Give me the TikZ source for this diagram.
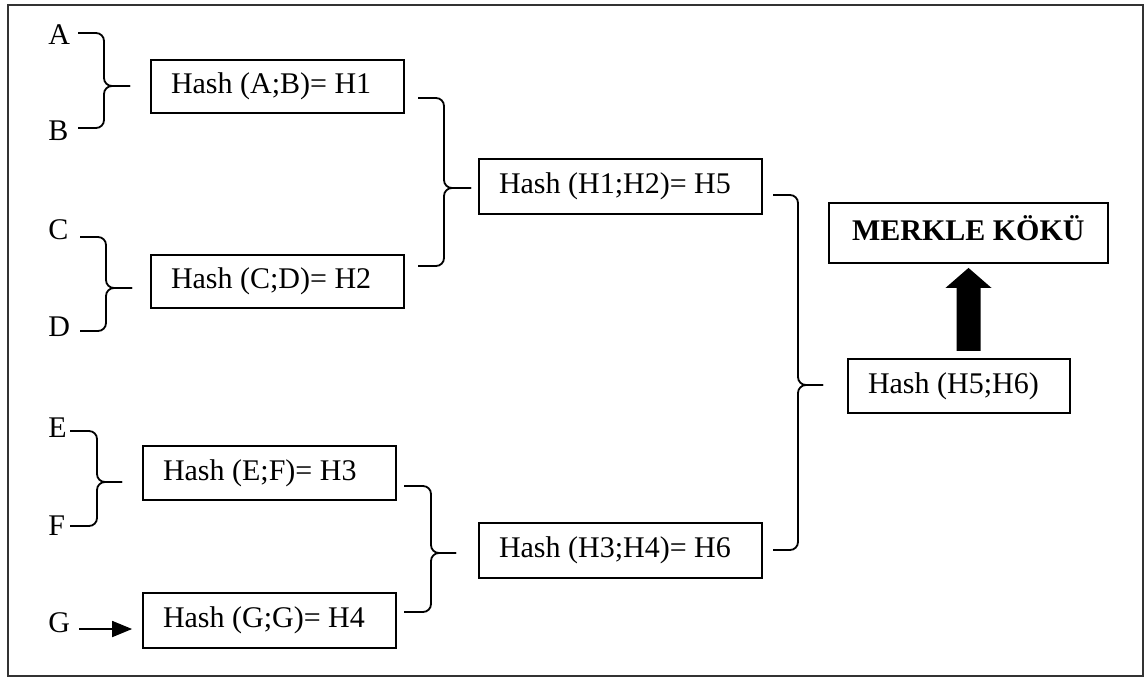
\documentclass[tikz,border=0pt]{standalone}
\usepackage{fontspec}
\setmainfont{Liberation Serif}
\usetikzlibrary{arrows.meta,calc}

\tikzset{
  hbox/.style={draw, line width=0.9pt, inner ysep=0pt, inner xsep=10pt,
    text height=0.82em, text depth=0.1em, font=\fontsize{15}{18}\selectfont},
  leaf/.style={inner sep=0pt, anchor=west, font=\fontsize{15}{18}\selectfont},
  brc/.style={line width=0.9pt, rounded corners=4pt},
  frame/.style={line width=1pt, draw=black!80},
}

% text set flush left in a field of given width
\newcommand\leftfield[2]{\makebox[#1][l]{#2}}

% merge brace: start x, top y, bottom y, spine x, tip x, tip y
\newcommand\mergebrace[6]{%
  \draw[brc] (#1,#2) -- (#4,#2) -- (#4,#6) -- (#5,#6);
  \draw[brc] (#1,#3) -- (#4,#3) -- (#4,#6) -- (#5,#6);
}

\begin{document}
\begin{tikzpicture}[x=0.5pt,y=-0.5pt]
  \useasboundingbox (0,0) rectangle (1146,677);
  \draw[frame] (8,5) rectangle (1143,676);

  % leaves
  \node[leaf] (A) at (48,35)  {A};
  \node[leaf] (B) at (48,131) {B};
  \node[leaf] (C) at (48,230) {C};
  \node[leaf] (D) at (48,327) {D};
  \node[leaf] (E) at (48,428) {E};
  \node[leaf] (F) at (48,526) {F};
  \node[leaf] (G) at (48,623) {G};

  % first level hashes
  \node[hbox, minimum height=26.5pt] (h1) at (277.5,86.5)  {\leftfield{106.5pt}{Hash (A;B)= H1}};
  \node[hbox, minimum height=26.5pt] (h2) at (277.5,281.5) {\leftfield{106.5pt}{Hash (C;D)= H2}};
  \node[hbox, minimum height=27pt]   (h3) at (269.5,473)   {\leftfield{106.5pt}{Hash (E;F)= H3}};
  \node[hbox, minimum height=27.5pt] (h4) at (269.5,620.5) {\leftfield{106.5pt}{Hash (G;G)= H4}};

  % second level hashes
  \node[hbox, minimum height=27.5pt] (h5) at (620.5,186.5) {\leftfield{121.5pt}{Hash (H1;H2)= H5}};
  \node[hbox, minimum height=27.5pt] (h6) at (620.5,550.5) {\leftfield{121.5pt}{Hash (H3;H4)= H6}};

  % top hash and root
  \node[hbox, minimum height=27pt] (h56) at (959,386) {\leftfield{91pt}{Hash (H5;H6)}};
  \node[hbox, inner xsep=11.5pt, minimum height=30pt, font=\fontsize{15}{18}\selectfont\bfseries]
    (root) at (968.5,233) {\leftfield{116.5pt}{MERKLE KÖKÜ}};

  % braces joining pairs
  \mergebrace{78}{33}{128}{104}{130}{86}
  \mergebrace{80}{237}{331}{106}{132}{288}
  \mergebrace{70}{431}{526}{97}{122}{482}
  \mergebrace{418}{98}{266}{444}{471}{188}
  \mergebrace{404}{486}{612}{431}{456}{553}
  \mergebrace{773}{195}{550}{798}{823}{385}

  % single leaf passed on
  \draw[line width=0.9pt, -{Triangle[length=10pt,width=8pt]}] ($(G.east)+(9,6)$) -- ($(h4.west)+(-10,8.5)$);

  % block arrow up to the root
  \fill[shift={(root.south)}] (-12,87) -- (-12,24) -- (-23,24) -- (0,4) -- (23,24) -- (12,24) -- (12,87) -- cycle;
\end{tikzpicture}
\end{document}
